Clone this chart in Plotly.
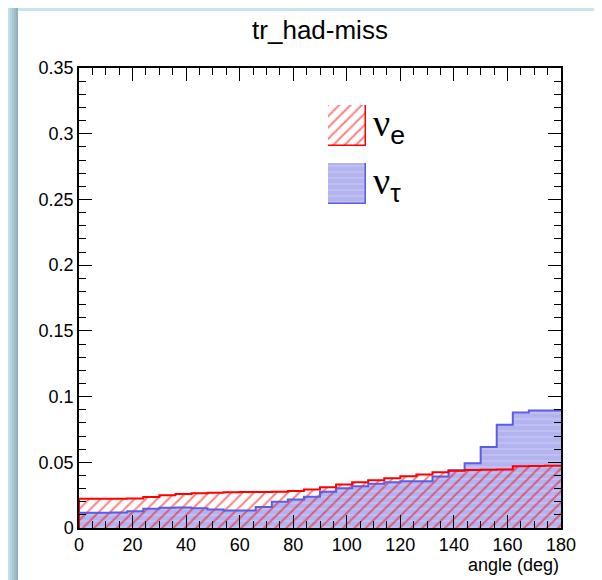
import numpy as np
import plotly.graph_objects as go

# ---------------- data ----------------
bin_edges = list(range(0, 181, 6))  # 30 bins of 6 deg
nue_vals = [0.0222, 0.0222, 0.0223, 0.0224, 0.0236, 0.0249, 0.0258, 0.0265, 0.0268, 0.0272,
            0.0273, 0.0274, 0.0276, 0.0282, 0.0293, 0.0311, 0.0331, 0.0349, 0.0364, 0.0379,
            0.0394, 0.0407, 0.0425, 0.0436, 0.0442, 0.0444, 0.0446, 0.0470, 0.0472, 0.0474]
nutau_vals = [0.0116, 0.0116, 0.0118, 0.0128, 0.0146, 0.0155, 0.0156, 0.0150, 0.0140, 0.0134,
              0.0133, 0.0159, 0.0199, 0.0217, 0.0237, 0.0275, 0.0303, 0.0318, 0.0336, 0.0349,
              0.0355, 0.0356, 0.0392, 0.0440, 0.0492, 0.0616, 0.0786, 0.0879, 0.0894, 0.0894]
title_text = "tr_had-miss"
x_title = "angle (deg)"
legend_nu = ["ν", "ν"]
legend_sub = ["e", "τ"]

# ---------------- geometry helpers (screen px; page body has an 8px margin) ----------------
OFF = 8
W, H = 602 - OFF, 580 - OFF
SL, SR, ST, SB = 79, 561, 68, 528          # frame edges on screen
L, R, T, B = SL - OFF, SR - OFF, ST - OFF, SB - OFF
def px2x(px):
    return (px - SL) / (SR - SL)
def py2y(py):
    return (SB - py) / (SB - ST)

edges = np.array(bin_edges, dtype=float)
centers = (edges[:-1] + edges[1:]) / 2
widths = np.diff(edges)

def step_xy(vals):
    xs = [edges[0]] + list(edges)
    ys = [0.0] + list(vals) + [vals[-1]]
    return xs, ys

FONT = "Liberation Sans, Arial, Helvetica, sans-serif"
RED = "#ff0000"
BLUE_LINE = "#5c5ce6"
BLUE_FILL = "rgba(125,125,228,0.58)"
RED_PAT = dict(shape="/", fgcolor=RED, size=8, solidity=0.24, fillmode="overlay")
BLUE_PAT = dict(shape="-", fgcolor="rgba(255,255,255,0.55)", size=6, solidity=0.2, fillmode="overlay")

fig = go.Figure()

# nu_tau filled histogram (below)
fig.add_trace(go.Bar(
    x=centers, y=nutau_vals, width=widths,
    marker=dict(color=BLUE_FILL, line=dict(width=0), pattern=BLUE_PAT),
    showlegend=False, hoverinfo="skip"))
# nu_e hatched histogram (on top)
fig.add_trace(go.Bar(
    x=centers, y=nue_vals, width=widths,
    marker=dict(color="rgba(0,0,0,0)", line=dict(width=0), pattern=RED_PAT),
    showlegend=False, hoverinfo="skip"))

# outlines
xs, ys = step_xy(nutau_vals)
fig.add_trace(go.Scatter(x=xs, y=ys, mode="lines", line=dict(color=BLUE_LINE, width=2, shape="hv"),
                         showlegend=False, hoverinfo="skip"))
xs, ys = step_xy(nue_vals)
fig.add_trace(go.Scatter(x=xs, y=ys, mode="lines", line=dict(color=RED, width=2, shape="hv"),
                         showlegend=False, hoverinfo="skip"))

# legend boxes on small overlay axes
fig.add_trace(go.Bar(x=[0], y=[1], width=[1], xaxis="x2", yaxis="y2",
                     marker=dict(color="rgba(0,0,0,0)", line=dict(color=RED, width=1.5), pattern=RED_PAT),
                     showlegend=False, hoverinfo="skip"))
fig.add_trace(go.Bar(x=[0], y=[1], width=[1], xaxis="x3", yaxis="y3",
                     marker=dict(color=BLUE_FILL, line=dict(color=BLUE_LINE, width=1.5), pattern=BLUE_PAT),
                     showlegend=False, hoverinfo="skip"))

hidden = dict(visible=False, showgrid=False, zeroline=False, fixedrange=True)
box_x = [px2x(328), px2x(366)]
fig.update_layout(
    xaxis2=dict(domain=box_x, anchor="y2", range=[-0.5, 0.5], **hidden),
    yaxis2=dict(domain=[py2y(146), py2y(105)], anchor="x2", range=[0, 1], **hidden),
    xaxis3=dict(domain=box_x, anchor="y3", range=[-0.5, 0.5], **hidden),
    yaxis3=dict(domain=[py2y(204), py2y(163)], anchor="x3", range=[0, 1], **hidden),
)

# legend text
for nu, sub, yc in zip(legend_nu, legend_sub, [126, 184]):
    fig.add_annotation(x=px2x(371), y=py2y(yc), xref="paper", yref="paper",
                       xanchor="left", yanchor="middle", showarrow=False,
                       text='<span style="font-family:Liberation Serif, Times New Roman, serif">'
                            + nu + "</span><sub>" + sub + "</sub>",
                       font=dict(family=FONT, size=38, color="black"))

# background: light-blue canvas border (left band with gradient, thin top band)
shapes = []
shapes.append(dict(type="rect", xref="paper", yref="paper", layer="below",
                   x0=px2x(0), x1=px2x(620), y0=py2y(11), y1=py2y(0),
                   fillcolor="#c4e6f0", line=dict(width=0)))
c0 = np.array([190, 224, 234])
c1 = np.array([148, 176, 186])
n = 5
for i in range(n):
    f = i / (n - 1)
    c = (c0 * (1 - f) + c1 * f).astype(int)
    shapes.append(dict(type="rect", xref="paper", yref="paper", layer="below",
                       x0=px2x(OFF + i * 2), x1=px2x(OFF + i * 2 + 2), y0=py2y(600), y1=py2y(0),
                       fillcolor=f"rgb({c[0]},{c[1]},{c[2]})", line=dict(width=0)))

axis_common = dict(showline=True, linecolor="black", linewidth=1.5, mirror="allticks",
                   ticks="inside", tickcolor="black", ticklen=13, tickwidth=1,
                   showgrid=False, zeroline=False,
                   tickfont=dict(family=FONT, size=18, color="black"))

fig.update_layout(
    width=W, height=H,
    margin=dict(l=L, r=W - R, t=T, b=H - B, autoexpand=False),
    paper_bgcolor="white", plot_bgcolor="white",
    barmode="overlay", bargap=0,
    shapes=shapes,
    title=dict(text=title_text, x=(320 - OFF) / W, xanchor="center",
               y=1 - (30 - OFF) / H, yanchor="middle",
               font=dict(family=FONT, size=26, color="black")),
    xaxis=dict(range=[0, 180], dtick=20, tick0=0,
               minor=dict(dtick=5, ticks="inside", ticklen=7, tickcolor="black", showgrid=False),
               title=None, **axis_common),
    yaxis=dict(range=[0, 0.35], dtick=0.05, tick0=0,
               minor=dict(dtick=0.01, ticks="inside", ticklen=7, tickcolor="black", showgrid=False),
               title=None, **axis_common),
)

fig.add_annotation(x=1, y=py2y(565), xref="paper", yref="paper", xanchor="right", yanchor="middle",
                   text=x_title, showarrow=False, font=dict(family=FONT, size=18, color="black"))

fig.write_html("out.html")
